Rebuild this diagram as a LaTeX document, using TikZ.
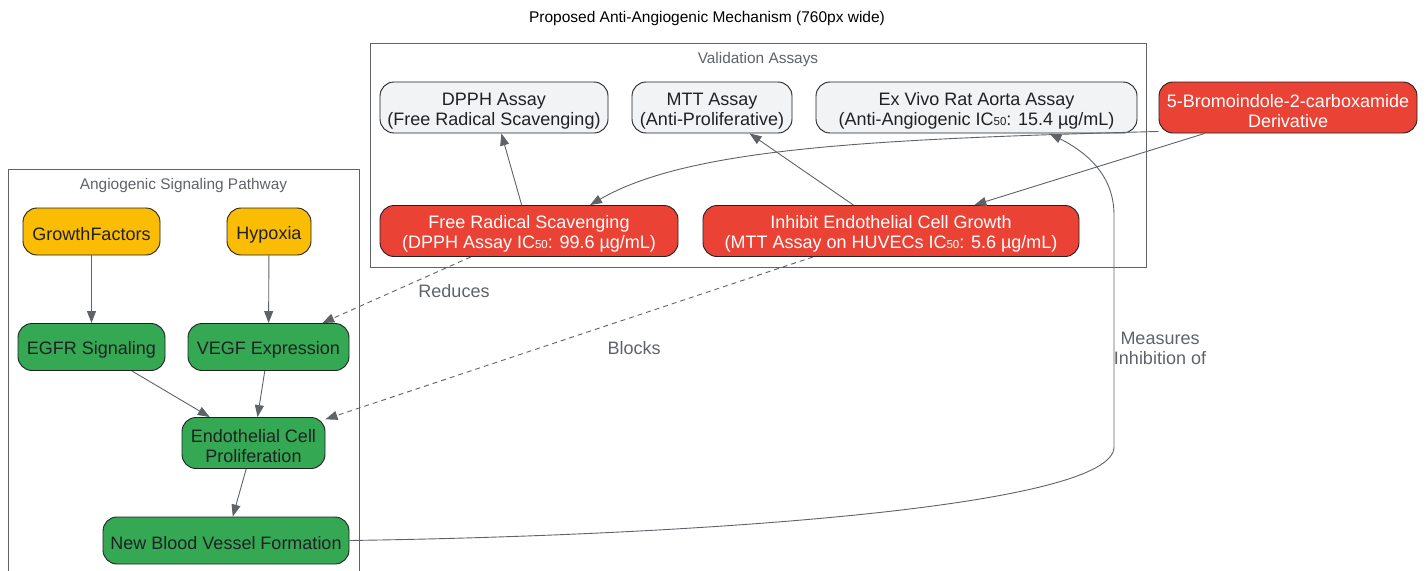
\documentclass[tikz,border=0pt]{standalone}
\usepackage{fontspec}
\setmainfont{Liberation Sans}
\usepackage{tikz}
\usetikzlibrary{arrows.meta}
\usetikzlibrary{positioning}

\definecolor{gred}{HTML}{EA4335}
\definecolor{ggreen}{HTML}{34A853}
\definecolor{gyellow}{HTML}{FBBC04}
\definecolor{glight}{HTML}{F1F3F4}
\definecolor{gedge}{HTML}{5F6368}
\definecolor{gtext}{HTML}{202124}

\newcommand{\smalldig}[1]{{\fontsize{11.5}{12}\selectfont #1}}

\begin{document}
\begin{tikzpicture}[x=1pt,y=-1pt]

    \tikzstyle{box}=[draw=gtext,line width=0.9pt,rounded corners=14pt,inner sep=0pt,align=center,font=\fontsize{18}{20}\selectfont,execute at begin node={\rule{0pt}{19pt}}]
    \tikzstyle{twoline}=[execute at begin node={\rule{0pt}{39.5pt}}]
    \tikzstyle{redbox}=[box,fill=gred,text=white]
    \tikzstyle{greenbox}=[box,fill=ggreen,text=gtext]
    \tikzstyle{yellowbox}=[box,fill=gyellow,text=gtext]
    \tikzstyle{assay}=[box,fill=glight,text=gtext]
    \tikzstyle{cluster}=[draw=gedge,line width=0.8pt,inner sep=0pt]
    \tikzstyle{clusterlabel}=[text=gedge,font=\fontsize{15.4}{18}\selectfont]
    \tikzstyle{link}=[draw=gedge,line width=0.9pt,-{Triangle[length=12pt,width=9pt]}]
    \tikzstyle{elabel}=[text=gedge,align=center,font=\fontsize{18}{20}\selectfont]

\useasboundingbox (0,0) rectangle (1426,570);

\node (title) [font=\fontsize{15.5}{18}\selectfont] at (707,18) {Proposed Anti-Angiogenic Mechanism (760px wide)};

% clusters
\node (val_box) [cluster,minimum width=776,minimum height=224] at (758,155) {};
\node (val_label) [clusterlabel,below=6pt of val_box.north] {Validation Assays};
\node (path_box) [cluster,minimum width=351,minimum height=413] at (183.5,375.5) {};
\node (path_label) [clusterlabel,below=6pt of path_box.north] {Angiogenic Signaling Pathway};

% validation assays
\node (dpph) [assay,twoline,minimum width=228,minimum height=51] at (494,107.5) {DPPH Assay\\(Free Radical Scavenging)};
\node (mtt) [assay,twoline,minimum width=160,minimum height=51] at (712,107.5) {MTT Assay\\(Anti-Proliferative)};
\node (ex_vivo) [assay,twoline,minimum width=321,minimum height=51] at (976.5,107.5) {Ex Vivo Rat Aorta Assay\\(Anti-Angiogenic IC\smalldig{50}: 15.4 µg/mL)};
\node (bromo) [redbox,twoline,minimum width=258,minimum height=51] at (1288,107.5) {5-Bromoindole-2-carboxamide\\Derivative};

\node (free_rad) [redbox,twoline,minimum width=298,minimum height=51] at (529,231) {Free Radical Scavenging\\(DPPH Assay IC\smalldig{50}: 99.6 µg/mL)};
\node (inhibit) [redbox,twoline,minimum width=376,minimum height=51] at (891,231) {Inhibit Endothelial Cell Growth\\(MTT Assay on HUVECs IC\smalldig{50}: 5.6 µg/mL)};

% signaling pathway
\node (growth_f) [yellowbox,minimum width=137,minimum height=47] at (91.5,231.5) {GrowthFactors};
\node (hypoxia) [yellowbox,minimum width=84,minimum height=47] at (269,231.5) {Hypoxia};
\node (egfr_sig) [greenbox,minimum width=147,minimum height=47] at (91.5,347) {EGFR Signaling};
\node (vegf_exp) [greenbox,minimum width=161,minimum height=47] at (268.5,347) {VEGF Expression};
\node (endo_prolif) [greenbox,twoline,minimum width=143,minimum height=51] at (253.5,443) {Endothelial Cell\\Proliferation};
\node (new_vessel) [greenbox,minimum width=246,minimum height=47] at (226,540.5) {New Blood Vessel Formation};

\draw [link] (growth_f) -- (egfr_sig);
\draw [link] (hypoxia) -- (vegf_exp);
\draw [link] (egfr_sig) -- (endo_prolif);
\draw [link] (vegf_exp) -- (endo_prolif);
\draw [link] (endo_prolif) -- (new_vessel);

\draw [link] (free_rad) -- (dpph);
\draw [link] (inhibit) -- (mtt);
\draw [link] (bromo) -- (inhibit);
\draw [link] ([yshift=2]bromo.south west) .. controls (880,139) and (690,147) .. ([xshift=61]free_rad.north);

\draw [link,dash pattern=on 5pt off 4pt] (free_rad) -- (vegf_exp);
\draw [link,dash pattern=on 5pt off 4pt] (inhibit) -- (endo_prolif);

\draw [link] (new_vessel.east) .. controls (720,535) and (1114,505) .. (1114,447) -- (1114,215) .. controls (1114,172) and (1082,150) .. ([xshift=73]ex_vivo.south);

\node (lbl_reduces) [elabel] at (454,291) {Reduces};
\node (lbl_blocks) [elabel] at (634,348) {Blocks};
\node (lbl_measures) [elabel] at (1160,348) {Measures\\Inhibition of};

\end{tikzpicture}
\end{document}
